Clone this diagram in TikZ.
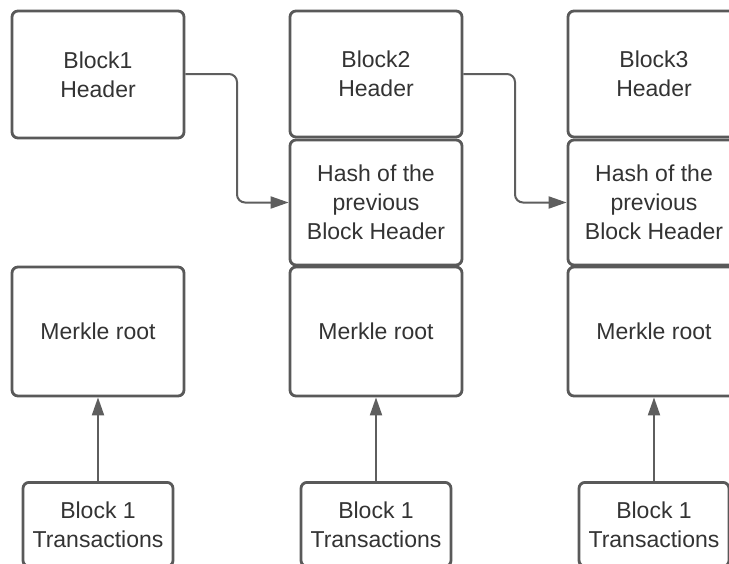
\documentclass[tikz,border=0pt]{standalone}
\usepackage{fontspec}
\setmainfont{Liberation Sans}
\usetikzlibrary{arrows.meta}
\definecolor{boxline}{HTML}{595959}
\definecolor{wire}{HTML}{5E5E5E}
\definecolor{ink}{HTML}{333333}
\tikzset{
  blk/.style={draw=boxline, line width=2.8pt, rounded corners=6pt, fill=white,
    minimum width=172pt, inner sep=0pt, align=center, text=ink,
    font=\fontsize{23}{29}\selectfont},
  txbox/.style={blk, minimum width=150pt},
  link/.style={draw=wire, line width=2pt, rounded corners=8pt,
    -{Triangle[length=18pt,width=12pt]}}
}
\begin{document}
\begin{tikzpicture}[x=1pt,y=-1pt]
  \useasboundingbox (0,0) rectangle (729,563);
  \clip (0,0) rectangle (729,563);
  \fill[white] (0,0) rectangle (729,563);

  % column 1
  \node[blk, minimum height=127pt] (h1) at (98,74.5) {Block1\\Header};
  \node[blk, minimum height=129pt] (m1) at (98,331.5) {Merkle root};
  \node[txbox, minimum height=84pt, anchor=north] (t1) at (98,481) {Block 1\\Transactions};

  % column 2
  \node[blk, minimum height=126pt] (h2) at (376,74) {Block2\\Header};
  \node[blk, minimum height=125pt] (p2) at (376,202.5) {Hash of the\\previous\\Block Header};
  \node[blk, minimum height=129pt] (m2) at (376,331.5) {Merkle root};
  \node[txbox, minimum height=84pt, anchor=north] (t2) at (376,481) {Block 1\\Transactions};

  % column 3
  \node[blk, minimum height=126pt] (h3) at (654,74) {Block3\\Header};
  \node[blk, minimum height=125pt] (p3) at (654,202.5) {Hash of the\\previous\\Block Header};
  \node[blk, minimum height=129pt] (m3) at (654,331.5) {Merkle root};
  \node[txbox, minimum height=84pt, anchor=north] (t3) at (654,481) {Block 1\\Transactions};

  % header hash links
  \coordinate (k1) at (237,74);
  \coordinate (k2) at (515,74);
  \draw[link] (h1.east |- k1) -- (k1) -- (k1 |- p2.west) -- (p2.west);
  \draw[link] (h2.east |- k2) -- (k2) -- (k2 |- p3.west) -- (p3.west);

  % transactions feed the Merkle roots
  \draw[link] (t1.north) -- (m1.south);
  \draw[link] (t2.north) -- (m2.south);
  \draw[link] (t3.north) -- (m3.south);
\end{tikzpicture}
\end{document}
